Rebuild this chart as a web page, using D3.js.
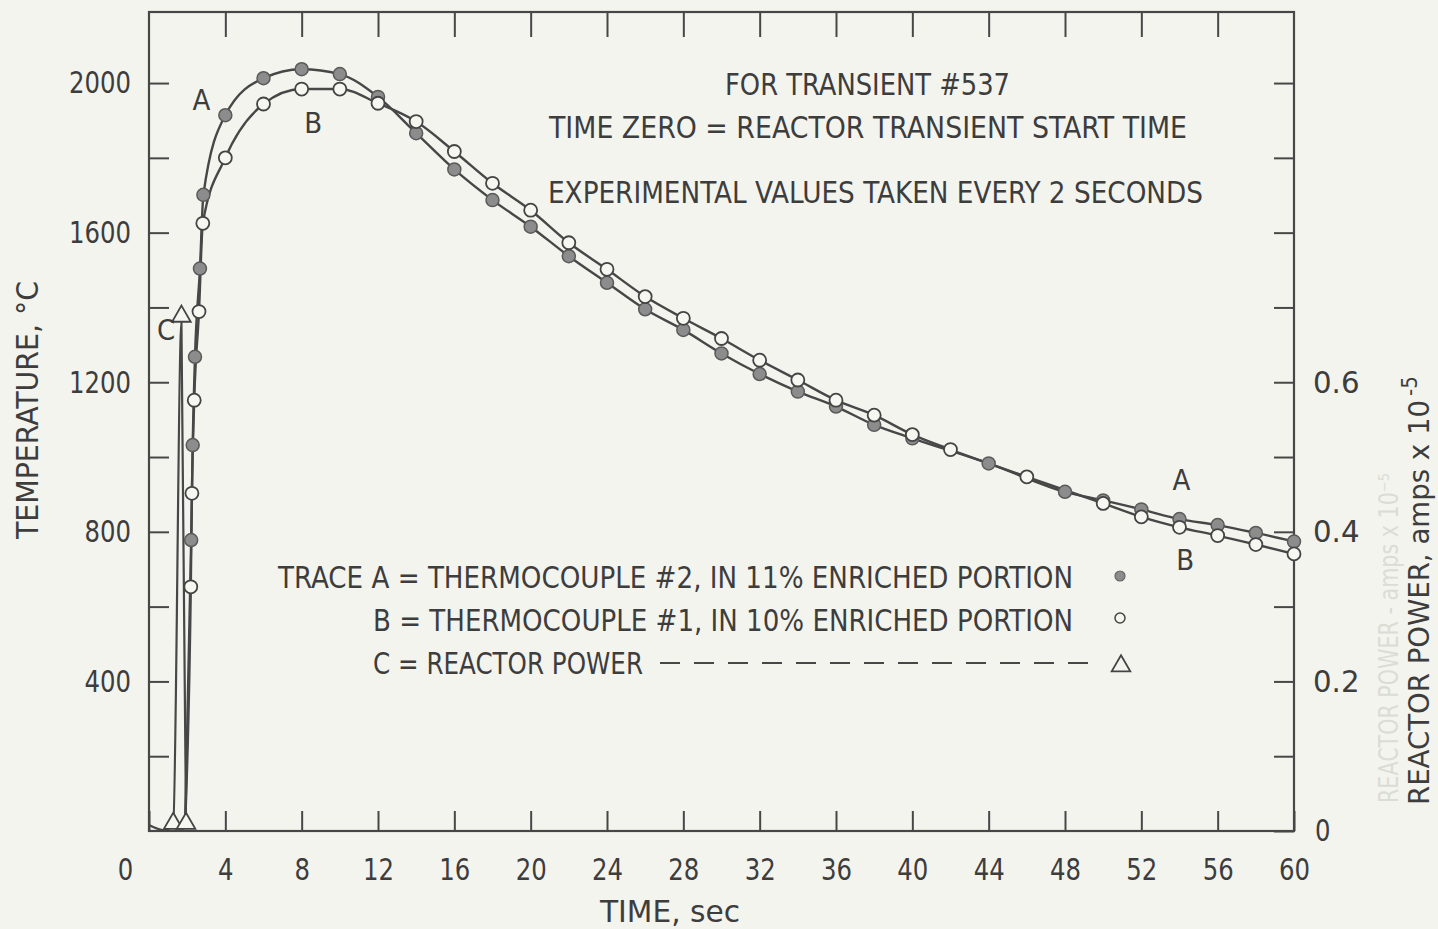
<!DOCTYPE html>
<html>
<head>
<meta charset="utf-8">
<script src="https://cdn.jsdelivr.net/npm/d3@7"></script>
<style>
  body { margin: 0; background: #f4f4ef; }
  svg { display: block; }
  text { font-family: "Liberation Sans Narrow", "DejaVu Sans Condensed", "Liberation Sans", sans-serif; fill: #3d3d3d; }
</style>
</head>
<body>
<svg width="1438" height="929"></svg>
<script>
// time axis labels (sec)
const timeTicks = [0, 4, 8, 12, 16, 20, 24, 28, 32, 36, 40, 44, 48, 52, 56, 60];
const tempTicks = [200, 400, 600, 800, 1000, 1200, 1400, 1600, 1800, 2000];
const tempLabels = [400, 800, 1200, 1600, 2000];
const powerTicks = [0, 0.1, 0.2, 0.3, 0.4, 0.5, 0.6, 0.7, 0.8, 0.9, 1.0];
const powerLabels = [0, 0.2, 0.4, 0.6];

// trace A, thermocouple #2 (filled), null = marker hidden under trace B
const timeA = [2.21, 2.29, 2.41, 2.67, 2.85, 4, 6, 8, 10, 12, 14, 16, 18, 20, 22, 24, 26, 28, 30,
  32, 34, 36, 38, 40, 42, 44, 46, 48, 50, 52, 54, 56, 58, 60];
const tempA = [778, 1032, 1268, 1504, 1701, 1914, 2013, 2037, 2024, 1963, 1866, 1769, 1687, 1616,
  1537, 1466, 1395, 1340, 1277, 1222, 1175, 1135, 1086, 1050, null, 983, null, 907, 884, 860,
  834, 818, 797, 774];

// trace B, thermocouple #1 (open)
const timeB = [2.19, 2.25, 2.37, 2.62, 2.82, 4, 6, 8, 10, 12, 14, 16, 18, 20, 22, 24, 26, 28, 30,
  32, 34, 36, 38, 40, 42, 44, 46, 48, 50, 52, 54, 56, 58, 60];
const tempB = [653, 903, 1152, 1389, 1625, 1800, 1944, 1984, 1984, 1946, 1897, 1817, 1732, 1660,
  1573, 1502, 1429, 1371, 1317, 1259, 1206, 1152, 1112, 1060, 1020, null, 947, null, 876, 840,
  812, 790, 766, 741];

// both traces leave the baseline here (no marker)
const startTime = 1.9;
const startTemp = 25;

// trace C, reactor power (amps x 10^-5)
const timeC = [0, 0.8, 1.27, 1.7, 1.94];
const powerC = [0.008, 0.001, 0.01, 0.68, 0.01];
const markedC = [false, false, true, true, true];

const svg = d3.select('svg');

const x = d3.scaleLinear().domain([0, 60]).range([149, 1294]);
const y = d3.scaleLinear().domain([0, 2190]).range([831, 12]);
const yP = d3.scaleLinear().domain([0, 1.095]).range([831, 12]);

const ink = '#474747';
const charW = 15.5; // typewriter-ish pitch of the lettering

// squeeze a text to a given width, glyphs included
const fit = (sel, w) => sel.attr('textLength', w).attr('lengthAdjust', 'spacingAndGlyphs');

// frame
svg.append('rect')
    .attr('x', x(0))
    .attr('y', y(2190))
    .attr('width', x(60) - x(0))
    .attr('height', y(0) - y(2190))
    .attr('fill', 'none')
    .attr('stroke', ink)
    .attr('stroke-width', 2.2);

const styleAxis = (g) => {
  g.select('.domain').remove();
  g.selectAll('.tick line').attr('stroke', ink).attr('stroke-width', 2);
  g.selectAll('.tick text')
      .attr('font-size', 31)
      .attr('fill', '#3d3d3d')
      .each(function () {
        const s = d3.select(this);
        const n = s.text().length;
        if (n) fit(s, n * charW);
      });
};

svg.append('g')
    .attr('transform', `translate(${x(0)},0)`)
    .call(d3.axisLeft(y).tickValues(tempTicks).tickSizeInner(-20).tickSizeOuter(0).tickPadding(18)
      .tickFormat(d => tempLabels.includes(d) ? d : ''))
    .call(styleAxis);

svg.append('g')
    .attr('transform', `translate(${x(60)},0)`)
    .call(d3.axisRight(yP).tickValues(powerTicks).tickSizeInner(-20).tickSizeOuter(0).tickPadding(19)
      .tickFormat(d => powerLabels.includes(d) ? (d === 0 ? '0' : d3.format('.1f')(d)) : ''))
    .call(styleAxis)
    .call(g => g.selectAll('.tick text').filter(d => d === 0).attr('dx', 2));

svg.append('g')
    .attr('transform', `translate(0,${y(0)})`)
    .call(d3.axisBottom(x).tickValues(timeTicks).tickSizeInner(-20).tickSizeOuter(0).tickPadding(27))
    .call(styleAxis)
    .call(g => g.selectAll('.tick text').filter(d => d === 0).attr('dx', -24));

svg.append('g')
    .attr('transform', `translate(0,${y(2190)})`)
    .call(d3.axisTop(x).tickValues(timeTicks.slice(1, -1)).tickSizeInner(-25).tickSizeOuter(0).tickFormat(''))
    .call(styleAxis);

// axis titles
svg.append('text')
    .attr('transform', 'translate(38,410) rotate(-90)')
    .attr('text-anchor', 'middle')
    .attr('font-size', 30)
    .text('TEMPERATURE, °C')
    .call(fit, 258);

svg.append('text')
    .attr('x', 670)
    .attr('y', 922)
    .attr('text-anchor', 'middle')
    .attr('font-size', 31)
    .text('TIME, sec')
    .call(fit, 140);

// faint show-through from the back of the sheet
svg.append('text')
    .attr('transform', 'translate(1398,803) rotate(-90)')
    .attr('font-size', 26)
    .style('fill', '#dcdcd6')
    .text('REACTOR POWER - amps x 10⁻⁵')
    .call(fit, 330);

svg.append('text')
    .attr('transform', 'translate(1429,805) rotate(-90)')
    .attr('font-size', 29)
    .text('REACTOR POWER, amps x 10')
    .call(fit, 405);
svg.append('text')
    .attr('transform', 'translate(1417,396) rotate(-90)')
    .attr('font-size', 22)
    .text('-5');

// notes
const notes = [
  { text: 'FOR TRANSIENT #537', x0: 725, x1: 1010, base: 95 },
  { text: 'TIME ZERO = REACTOR TRANSIENT START TIME', x0: 549, x1: 1187, base: 138 },
  { text: 'EXPERIMENTAL VALUES TAKEN EVERY 2 SECONDS', x0: 548, x1: 1203, base: 203 },
  { text: 'TRACE A = THERMOCOUPLE #2, IN 11% ENRICHED PORTION', x0: 278, x1: 1073, base: 588 },
  { text: 'B = THERMOCOUPLE #1, IN 10% ENRICHED PORTION', x0: 373, x1: 1073, base: 631 },
  { text: 'C = REACTOR POWER', x0: 373, x1: 643, base: 674 }
];
svg.selectAll('text.note')
  .data(notes)
  .join('text')
    .attr('class', 'note')
    .attr('x', d => d.x0)
    .attr('y', d => d.base)
    .attr('font-size', 31)
    .attr('textLength', d => d.x1 - d.x0)
    .attr('lengthAdjust', 'spacingAndGlyphs')
    .text(d => d.text);

// legend symbols
svg.append('circle').attr('cx', 1120).attr('cy', 576).attr('r', 5)
    .attr('fill', '#8c8c8c').attr('stroke', '#666').attr('stroke-width', 1.2);
svg.append('circle').attr('cx', 1120).attr('cy', 618).attr('r', 5)
    .attr('fill', '#f6f6f1').attr('stroke', '#444').attr('stroke-width', 1.5);
svg.append('line')
    .attr('x1', 660).attr('x2', 1102).attr('y1', 663).attr('y2', 663)
    .attr('stroke', ink).attr('stroke-width', 2)
    .attr('stroke-dasharray', '20 14');
const tri = d3.symbol(d3.symbolTriangle).size(150);
svg.append('path').attr('d', tri()).attr('transform', 'translate(1121,666)')
    .attr('fill', 'none').attr('stroke', '#444').attr('stroke-width', 1.8);

// traces
const tempLine = d3.line()
    .x(d => x(d.t))
    .y(d => y(d.v))
    .curve(d3.curveMonotoneX);

const seriesA = timeA.map((t, i) => ({ t, v: tempA[i] })).filter(d => d.v !== null);
const seriesB = timeB.map((t, i) => ({ t, v: tempB[i] })).filter(d => d.v !== null);
const start = { t: startTime, v: startTemp };

svg.append('path')
    .attr('d', tempLine([start, ...seriesA]))
    .attr('fill', 'none').attr('stroke', ink).attr('stroke-width', 2.4);
svg.append('path')
    .attr('d', tempLine([start, ...seriesB]))
    .attr('fill', 'none').attr('stroke', ink).attr('stroke-width', 2.4);

const seriesC = timeC.map((t, i) => ({ t, v: powerC[i], m: markedC[i] }));
const powerLine = d3.line()
    .x(d => x(d.t))
    .y(d => yP(d.v))
    .curve(d3.curveMonotoneX);
svg.append('path')
    .attr('d', powerLine(seriesC))
    .attr('fill', 'none').attr('stroke', ink).attr('stroke-width', 2.2);

svg.selectAll('circle.a')
  .data(seriesA)
  .join('circle')
    .attr('class', 'a')
    .attr('cx', d => x(d.t))
    .attr('cy', d => y(d.v))
    .attr('r', 6.5)
    .attr('fill', '#8c8c8c')
    .attr('stroke', '#5a5a5a')
    .attr('stroke-width', 1.5);

svg.selectAll('circle.b')
  .data(seriesB)
  .join('circle')
    .attr('class', 'b')
    .attr('cx', d => x(d.t))
    .attr('cy', d => y(d.v))
    .attr('r', 6.5)
    .attr('fill', '#f7f7f2')
    .attr('stroke', '#444')
    .attr('stroke-width', 1.8);

svg.selectAll('path.c')
  .data(seriesC.filter(d => d.m))
  .join('path')
    .attr('class', 'c')
    .attr('d', tri())
    .attr('transform', d => `translate(${x(d.t)},${yP(d.v) - (d.v > 0.1 ? 6 : 0)})`)
    .attr('fill', '#f7f7f2')
    .attr('stroke', '#444')
    .attr('stroke-width', 1.8);

// curve letters
const curveLabels = [
  { text: 'A', t: 2.75, v: 1955 },
  { text: 'B', t: 8.6, v: 1895 },
  { text: 'C', t: 0.9, v: 1340 },
  { text: 'A', t: 54.1, v: 940 },
  { text: 'B', t: 54.3, v: 725 }
];
svg.selectAll('text.lbl')
  .data(curveLabels)
  .join('text')
    .attr('class', 'lbl')
    .attr('x', d => x(d.t))
    .attr('y', d => y(d.v))
    .attr('text-anchor', 'middle')
    .attr('dy', '0.36em')
    .attr('font-size', 29)
    .text(d => d.text);
</script>
</body>
</html>
